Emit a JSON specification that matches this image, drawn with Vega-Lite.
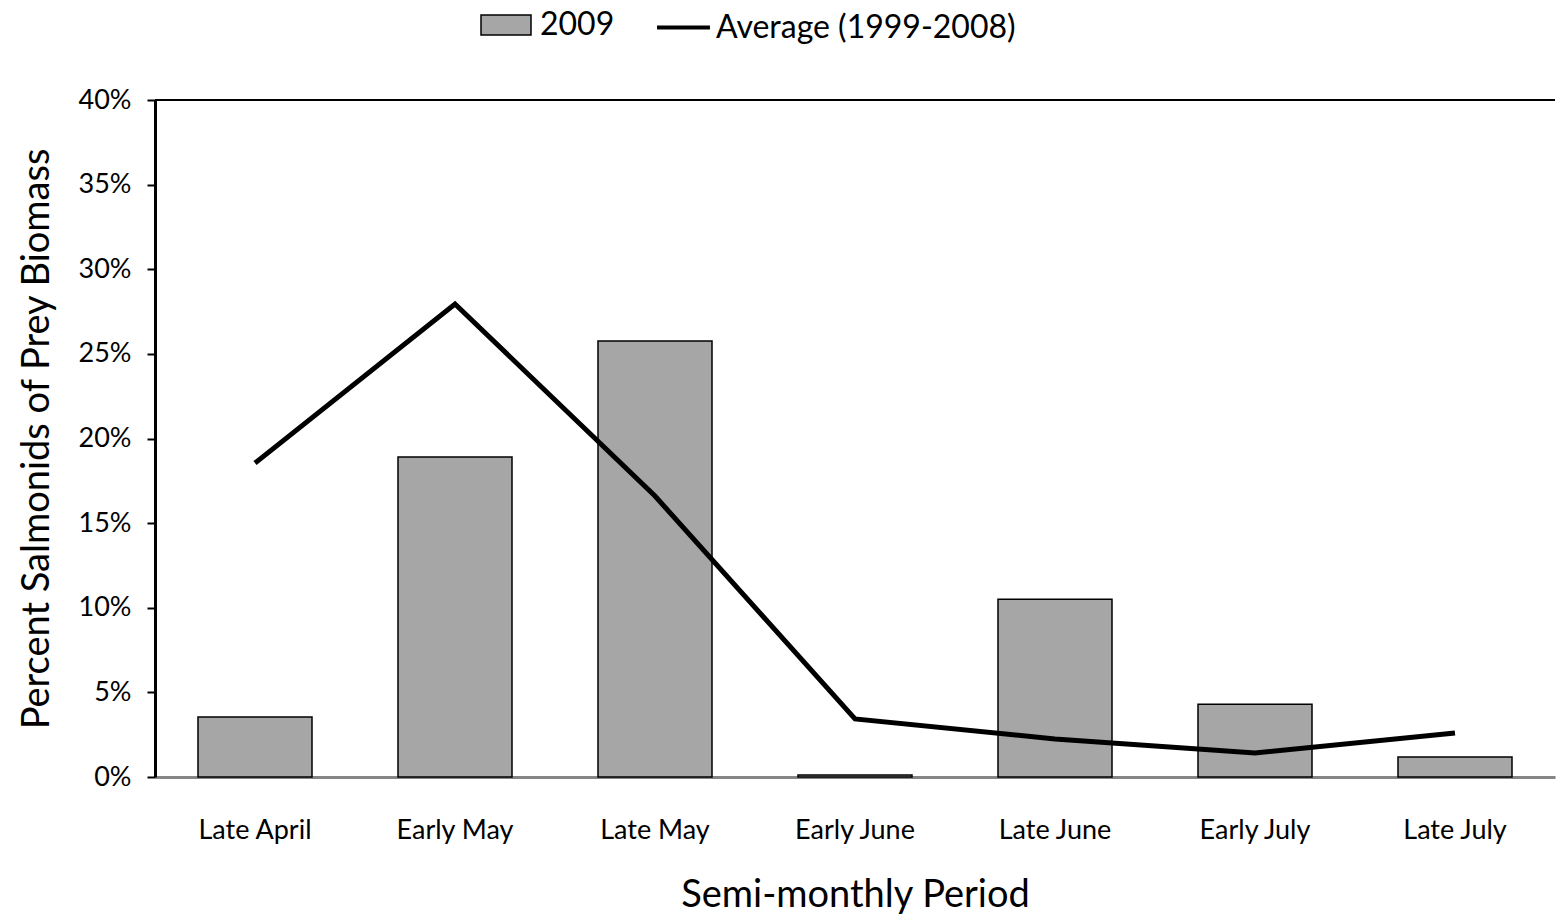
{
  "$schema": "https://vega.github.io/schema/vega-lite/v6.json",
  "autosize": {"type": "none"},
  "padding": {"left": 155, "top": 100, "right": 1, "bottom": 141},
  "width": 1400,
  "height": 677,
  "background": "white",
  "config": {
    "font": "Lato",
    "view": {"stroke": null},
    "axis": {"grid": false, "labelFont": "Lato", "titleFont": "Lato", "labelColor": "black", "titleColor": "black", "titleFontWeight": "normal"}
  },
  "data": {
    "values": [
      {"period": "Late April", "y2009": 0.0355, "avg": 0.1855},
      {"period": "Early May", "y2009": 0.189, "avg": 0.2795},
      {"period": "Late May", "y2009": 0.2576, "avg": 0.166},
      {"period": "Early June", "y2009": 0.0012, "avg": 0.0343},
      {"period": "Late June", "y2009": 0.105, "avg": 0.0225},
      {"period": "Early July", "y2009": 0.043, "avg": 0.0142},
      {"period": "Late July", "y2009": 0.0118, "avg": 0.026}
    ]
  },
  "layer": [
    {
      "mark": {"type": "bar", "stroke": "black", "strokeWidth": 1.5},
      "encoding": {
        "x": {
          "field": "period", "type": "nominal", "sort": null,
          "scale": {"paddingInner": 0.43, "paddingOuter": 0.215},
          "axis": {
            "title": "Semi-monthly Period", "titleFontSize": 38, "titlePadding": 33,
            "labelAngle": 0, "labelFontSize": 27, "labelPadding": 40, "ticks": false,
            "domainColor": "#868686", "domainWidth": 3
          }
        },
        "y": {
          "field": "y2009", "type": "quantitative",
          "scale": {"domain": [0, 0.4]},
          "axis": {
            "title": "Percent Salmonids of Prey Biomass", "titleFontSize": 38, "titlePadding": 22,
            "format": ".0%", "values": [0, 0.05, 0.1, 0.15, 0.2, 0.25, 0.3, 0.35, 0.4],
            "labelFontSize": 27, "labelPadding": 16, "tickSize": 8, "tickWidth": 2, "tickColor": "black",
            "domainColor": "black", "domainWidth": 3
          }
        },
        "fill": {
          "datum": "2009", "type": "nominal",
          "scale": {"range": ["#a6a6a6"]},
          "legend": {
            "title": null, "orient": "none", "legendX": 325, "legendY": -101,
            "symbolType": "M-1,-0.4H1V0.4H-1Z", "symbolSize": 2500, "symbolStrokeColor": "black", "symbolStrokeWidth": 1.5,
            "labelFontSize": 32, "labelFont": "Lato", "labelColor": "black", "labelOffset": 8, "labelLimit": 600
          }
        }
      }
    },
    {
      "mark": {"type": "line", "strokeWidth": 5},
      "encoding": {
        "x": {"field": "period", "type": "nominal", "sort": null},
        "y": {"field": "avg", "type": "quantitative"},
        "stroke": {
          "datum": "Average (1999-2008)", "type": "nominal",
          "scale": {"range": ["black"]},
          "legend": {
            "title": null, "orient": "none", "legendX": 500, "legendY": -101,
            "symbolType": "stroke", "symbolSize": 2800, "symbolStrokeWidth": 4,
            "labelFontSize": 32, "labelFont": "Lato", "labelColor": "black", "labelOffset": 4, "labelLimit": 600
          }
        }
      }
    },
    {
      "mark": {"type": "rule", "color": "black", "strokeWidth": 1.5},
      "encoding": {"y": {"datum": 0.4}}
    }
  ]
}
